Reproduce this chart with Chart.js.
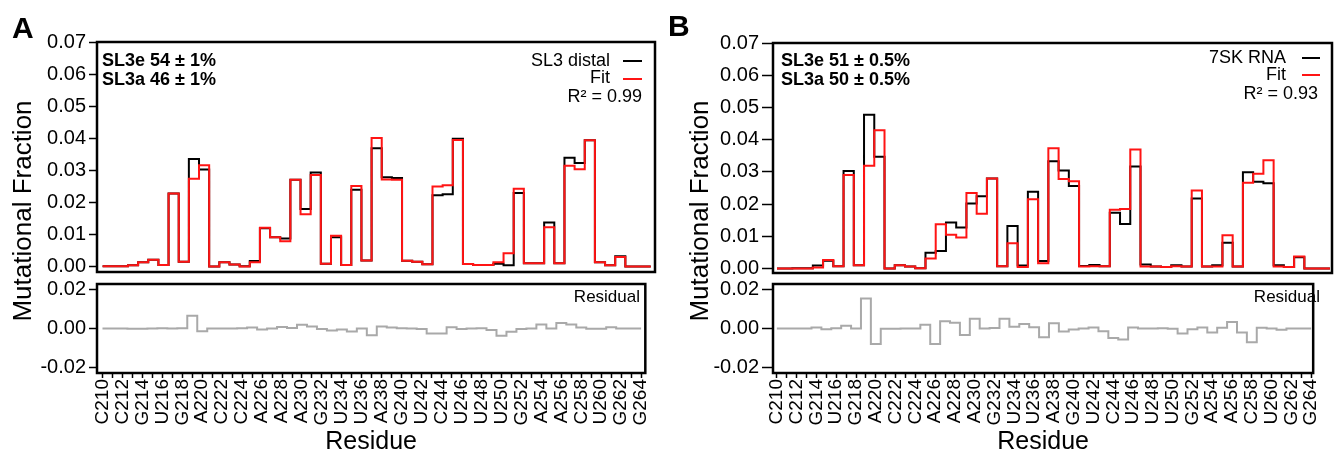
<!DOCTYPE html>
<html>
<head>
<meta charset="utf-8">
<script src="https://cdn.jsdelivr.net/npm/chart.js@4/dist/chart.umd.min.js"></script>
<style>
body{margin:0;background:#fff;width:1335px;height:454px;position:relative;overflow:hidden}
canvas{position:absolute;top:0}
</style>
</head>
<body>
<canvas id="aTop" width="665" height="454" style="left:0"></canvas>
<canvas id="aRes" width="665" height="454" style="left:0"></canvas>
<canvas id="bTop" width="670" height="454" style="left:665px"></canvas>
<canvas id="bRes" width="670" height="454" style="left:665px"></canvas>
<script>
const residues=[210,211,212,213,214,215,216,217,218,219,220,221,222,223,224,225,226,227,228,229,230,231,232,233,234,235,236,237,238,239,240,241,242,243,244,245,246,247,248,249,250,251,252,253,254,255,256,257,258,259,260,261,262,263,264]

const residueLabels=["C210","C212","G214","U216","G218","A220","C222","C224","A226","A228","A230","G232","U234","U236","A238","G240","U242","C244","U246","U248","U250","G252","A254","A256","C258","U260","G262","G264"]

const topTicks=[0,0.01,0.02,0.03,0.04,0.05,0.06,0.07]
const resTicks=[-0.02,0,0.02]

// panel A : SL3 distal
const distalA=[0.0002,0.0002,0.0002,0.0005,0.0014,0.0022,0.0006,0.0228,0.0016,0.0336,0.0303,0.0001,0.0014,0.0007,0.0002,0.0018,0.0120,0.0092,0.0088,0.0271,0.0180,0.0294,0.0010,0.0092,0.0006,0.0240,0.0020,0.0369,0.0279,0.0277,0.0019,0.0016,0.0008,0.0223,0.0226,0.0399,0.0009,0.0006,0.0006,0.0010,0.0005,0.0230,0.0011,0.0011,0.0138,0.0011,0.0340,0.0323,0.0394,0.0014,0.0005,0.0033,0.0001,0.0001,0.0001]
const fitA=[0.0002,0.0002,0.0002,0.0005,0.0014,0.0022,0.0006,0.0228,0.0016,0.0274,0.0316,0.0001,0.0014,0.0007,0.0001,0.0014,0.0122,0.0092,0.0080,0.0271,0.0164,0.0286,0.0010,0.0097,0.0006,0.0252,0.0020,0.0401,0.0272,0.0271,0.0019,0.0016,0.0008,0.0250,0.0254,0.0395,0.0009,0.0006,0.0006,0.0014,0.0042,0.0243,0.0011,0.0011,0.0123,0.0011,0.0315,0.0304,0.0394,0.0014,0.0005,0.0031,0.0001,0.0001,0.0001]
const residA=[0,0,0,-0.0001,-0.0001,0,0.0001,0,0.0001,0.0066,-0.0014,0,0,0,0.0001,0.0005,-0.0005,0,0.0008,0.0002,0.0019,0.0010,-0.0003,-0.0010,-0.0005,-0.0016,0,-0.0035,0.0010,0.0005,0.0001,0,-0.0002,-0.0026,-0.0026,0.0007,-0.0002,0,0.0001,-0.0008,-0.0037,-0.0017,-0.0002,0,0.0021,0,0.0028,0.0021,0.0005,-0.0001,-0.0001,0.0007,0,0,0]

// panel B : 7SK RNA
const rnaB=[0,0,0.0001,0.0001,0.0009,0.0024,0.0007,0.0303,0.0010,0.0477,0.0347,0,0.0010,0.0006,0.0001,0.0049,0.0054,0.0143,0.0127,0.0202,0.0224,0.0279,0.0007,0.0132,0.0009,0.0238,0.0023,0.0333,0.0304,0.0256,0.0008,0.0011,0.0007,0.0173,0.0138,0.0317,0.0012,0.0006,0.0005,0.0010,0.0006,0.0217,0.0006,0.0010,0.0080,0.0006,0.0299,0.0269,0.0265,0.0010,0.0005,0.0035,0,0,0]
const fitB=[0,0,0,0,0.0003,0.0026,0.0007,0.0290,0.0010,0.0319,0.0429,0,0.0010,0.0006,0.0001,0.0031,0.0137,0.0105,0.0096,0.0234,0.0170,0.0279,0.0007,0.0078,0.0005,0.0215,0.0016,0.0373,0.0278,0.0271,0.0006,0.0007,0.0007,0.0182,0.0185,0.0369,0.0006,0.0006,0.0005,0.0007,0.0006,0.0242,0.0006,0.0006,0.0103,0.0006,0.0266,0.0294,0.0336,0.0006,0.0005,0.0037,0,0,0]
const residB=[0,0,0,0,0.0005,-0.0004,0.0001,0.0014,0,0.0156,-0.0081,-0.0001,-0.0001,0,0,0.0019,-0.0080,0.0037,0.0030,-0.0034,0.0051,0,0.0002,0.0051,0.0009,0.0023,0.0007,-0.0046,0.0027,-0.0016,-0.0005,0,0.0005,-0.0014,-0.0049,-0.0057,0.0005,0,0,0.0001,-0.0001,-0.0026,-0.0004,0.0005,-0.0021,0.0004,0.0034,-0.0021,-0.0071,0.0004,0,-0.0007,0,0,0]

const FONT='"Liberation Sans", Arial, Helvetica, sans-serif'
Chart.defaults.font.family=FONT
Chart.defaults.color="#000"

function pts(vals){
return residues.map((r,i)=>({x:r,y:vals[i]}))
}

function labelFor(v){
const l=residueLabels.find(s=>Number(s.slice(1))===v)
return l||""
}

const boxPlugin={
id:"box",
afterDraw(chart){
const {ctx,chartArea:a}=chart
ctx.save()
ctx.lineWidth=2.5
ctx.strokeStyle="#000"
ctx.strokeRect(a.left,a.top,a.right-a.left,a.bottom-a.top)
ctx.restore()
}
}

const textPlugin={
id:"texts",
afterDraw(chart,args,opts){
const ctx=chart.ctx
;(opts.lines||[]).forEach(l=>{
ctx.save()
ctx.strokeStyle=l.color
ctx.lineWidth=2
ctx.beginPath()
ctx.moveTo(l.x1,l.y)
ctx.lineTo(l.x2,l.y)
ctx.stroke()
ctx.restore()
})
;(opts.items||[]).forEach(t=>{
ctx.save()
ctx.font=t.font
ctx.fillStyle="#000"
ctx.textAlign=t.align||"left"
ctx.textBaseline="middle"
ctx.translate(t.x,t.y)
if(t.rot) ctx.rotate(t.rot)
ctx.fillText(t.text,0,0)
ctx.restore()
})
}
}

function yAxis(min,max,ticks,width,tickLen){
return {
min:min,max:max,
afterFit(s){s.width=width},
afterBuildTicks(s){s.ticks=ticks.map(v=>({value:v}))},
ticks:{callback:v=>v.toFixed(2),font:{size:20},color:"#000",padding:3},
grid:{drawOnChartArea:false,tickLength:tickLen,tickColor:"#000",tickWidth:1.5},
border:{display:false}
}
}

function topChart(id,p){
return new Chart(document.getElementById(id),{
type:"line",
data:{datasets:[
{data:pts(p.fit),borderColor:"#ff1414",borderWidth:2,stepped:"middle",pointRadius:0},
{data:pts(p.obs),borderColor:"#000",borderWidth:2,stepped:"middle",pointRadius:0}
]},
options:{
responsive:false,animation:false,events:[],
layout:{padding:p.topPad},
plugins:{legend:{display:false},tooltip:{enabled:false},texts:{items:p.items,lines:p.lines}},
scales:{
x:{type:"linear",min:p.xmin,max:p.xmax,display:false},
y:yAxis(p.ymin,0.07,topTicks,p.yw,p.tl)
}
},
plugins:[boxPlugin,textPlugin]
})
}

function resChart(id,p){
return new Chart(document.getElementById(id),{
type:"line",
data:{datasets:[
{data:pts(p.res),borderColor:"#a9a9a9",borderWidth:2,stepped:"middle",pointRadius:0}
]},
options:{
responsive:false,animation:false,events:[],
layout:{padding:p.resPad},
plugins:{legend:{display:false},tooltip:{enabled:false},texts:{items:p.resItems}},
scales:{
x:{
type:"linear",min:p.xmin,max:p.xmax,
afterFit(s){s.height=81},
afterBuildTicks(s){s.ticks=residues.map(r=>({value:r}))},
ticks:{autoSkip:false,minRotation:90,maxRotation:90,padding:1,font:{size:19},color:"#000",callback:v=>labelFor(v)},
grid:{drawOnChartArea:false,tickLength:5,tickColor:"#000",tickWidth:1.5},
border:{display:false},
title:{display:true,text:"Residue",font:{size:25},color:"#000",padding:{top:0,bottom:-3}}
},
y:yAxis(-0.0231,0.0231,resTicks,p.yw,p.tl)
}
},
plugins:[boxPlugin,textPlugin]
})
}

const bold="bold 18px "+FONT
const reg="18px "+FONT

const panelA={
obs:distalA,fit:fitA,res:residA,
xmin:209.45,xmax:264.42,ymin:-0.0016,yw:97,tl:8,
topPad:{left:0,top:42,right:10,bottom:182},
resPad:{left:0,top:284,right:10,bottom:0},
items:[
{text:"A",font:"bold 30px "+FONT,x:12,y:30},
{text:"SL3e 54 ± 1%",font:bold,x:102,y:61},
{text:"SL3a 46 ± 1%",font:bold,x:102,y:80},
{text:"SL3 distal",font:reg,x:610,y:61,align:"right"},
{text:"Fit",font:reg,x:610,y:78,align:"right"},
{text:"R² = 0.99",font:reg,x:642,y:97,align:"right"},
{text:"Mutational Fraction",font:"26px "+FONT,x:24,y:211,align:"center",rot:-Math.PI/2}
],
lines:[{x1:623,x2:642,y:61,color:"#000"},{x1:623,x2:642,y:79,color:"#ff1414"}],
resItems:[{text:"Residual",font:"17px "+FONT,x:640,y:297,align:"right"}]
}

const panelB={
obs:rnaB,fit:fitB,res:residB,
xmin:209.61,xmax:264.2,ymin:-0.0014,yw:108,tl:11,
topPad:{left:0,top:43,right:3,bottom:181},
resPad:{left:0,top:284,right:3,bottom:0},
items:[
{text:"B",font:"bold 30px "+FONT,x:3,y:28},
{text:"SL3e 51 ± 0.5%",font:bold,x:116,y:61},
{text:"SL3a 50 ± 0.5%",font:bold,x:116,y:80},
{text:"7SK RNA",font:reg,x:621,y:58,align:"right"},
{text:"Fit",font:reg,x:621,y:75,align:"right"},
{text:"R² = 0.93",font:reg,x:653,y:94,align:"right"},
{text:"Mutational Fraction",font:"26px "+FONT,x:36,y:211,align:"center",rot:-Math.PI/2}
],
lines:[{x1:637,x2:655,y:58,color:"#000"},{x1:637,x2:655,y:75,color:"#ff1414"}],
resItems:[{text:"Residual",font:"17px "+FONT,x:655,y:297,align:"right"}]
}

topChart("aTop",panelA)
resChart("aRes",panelA)
topChart("bTop",panelB)
resChart("bRes",panelB)
</script>
</body>
</html>
